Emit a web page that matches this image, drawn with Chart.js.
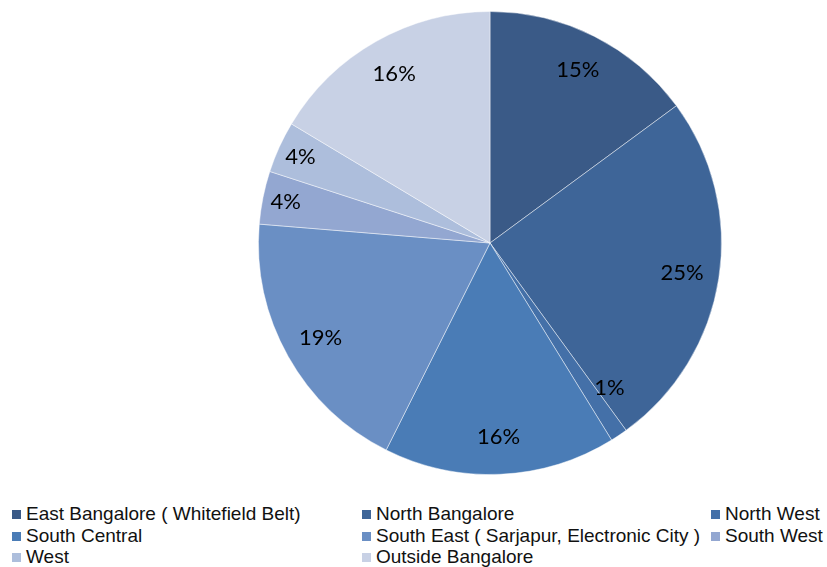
<!DOCTYPE html>
<html>
<head>
<meta charset="utf-8">
<script src="https://cdn.jsdelivr.net/npm/chart.js@4/dist/chart.umd.min.js"></script>
<style>
    body { margin: 0; background: #fff; }
    #wrap { position: absolute; left: 0; top: 0; width: 827px; height: 480px; }
    #legend { position: absolute; left: 0; top: 503px; width: 827px;
        font-family: "Liberation Sans", Arial, sans-serif; font-size: 19px; color: #111; }
    .item { position: absolute; height: 22px; line-height: 22px; white-space: nowrap; }
    .box { display: inline-block; width: 9px; height: 9px; margin-right: 5px; vertical-align: 1px; }
</style>
</head>
<body>
<div id="wrap"><canvas id="c"></canvas></div>
<div id="legend"></div>
<script>
const labels = [
    'East Bangalore ( Whitefield Belt)',
    'North Bangalore',
    'North West',
    'South Central',
    'South East ( Sarjapur, Electronic City )',
    'South West',
    'West',
    'Outside Bangalore'
]
const shares = [14.9, 25.1, 1.2, 16.2, 18.9, 3.7, 3.6, 16.4]
const colors = ['#3a5a87', '#3e6598', '#4470a8', '#4a7cb6', '#6a8fc4', '#93a7d1', '#adbedc', '#c8d1e5']

// labels inside the slices
const sliceLabels = {
    id: 'sliceLabels',
    afterDatasetsDraw(chart) {
        const ctx = chart.ctx
        const meta = chart.getDatasetMeta(0)
        ctx.save()
        ctx.font = '22px Lato, "Open Sans", sans-serif'
        ctx.fillStyle = '#000'
        ctx.textAlign = 'center'
        ctx.textBaseline = 'middle'
        meta.data.forEach((arc, i) => {
            let mid = (arc.startAngle + arc.endAngle) / 2
            let f = 0.84
            if (shares[i] < 2) {
                // tiny slice: label sits a bit off to the side
                f = 0.81
                mid -= 0.1
            } else if (shares[i] < 5) f = 0.9
            const x = arc.x + Math.cos(mid) * arc.outerRadius * f
            const y = arc.y + Math.sin(mid) * arc.outerRadius * f
            ctx.fillText(Math.round(shares[i]) + '%', x, y)
        })
        ctx.restore()
    }
}

new Chart(document.getElementById('c'), {
    type: 'pie',
    data: {
        labels: labels,
        datasets: [{
            data: shares,
            backgroundColor: colors,
            borderColor: 'rgba(255,255,255,0.45)',
            borderWidth: 1
        }]
    },
    options: {
        responsive: true,
        maintainAspectRatio: false,
        animation: false,
        layout: { padding: { left: 153, right: 0, top: 11, bottom: 5 } },
        plugins: {
            legend: { display: false },
            tooltip: { enabled: false }
        }
    },
    plugins: [sliceLabels]
})

// legend in three columns like the original
const colX = [12, 362, 711]
const legend = document.getElementById('legend')
labels.forEach((label, i) => {
    const el = document.createElement('div')
    el.className = 'item'
    el.style.left = colX[i % 3] + 'px'
    el.style.top = Math.floor(i / 3) * 21.5 + 'px'
    el.innerHTML = `<span class="box" style="background:${colors[i]}"></span>${label}`
    legend.appendChild(el)
})
</script>
</body>
</html>
